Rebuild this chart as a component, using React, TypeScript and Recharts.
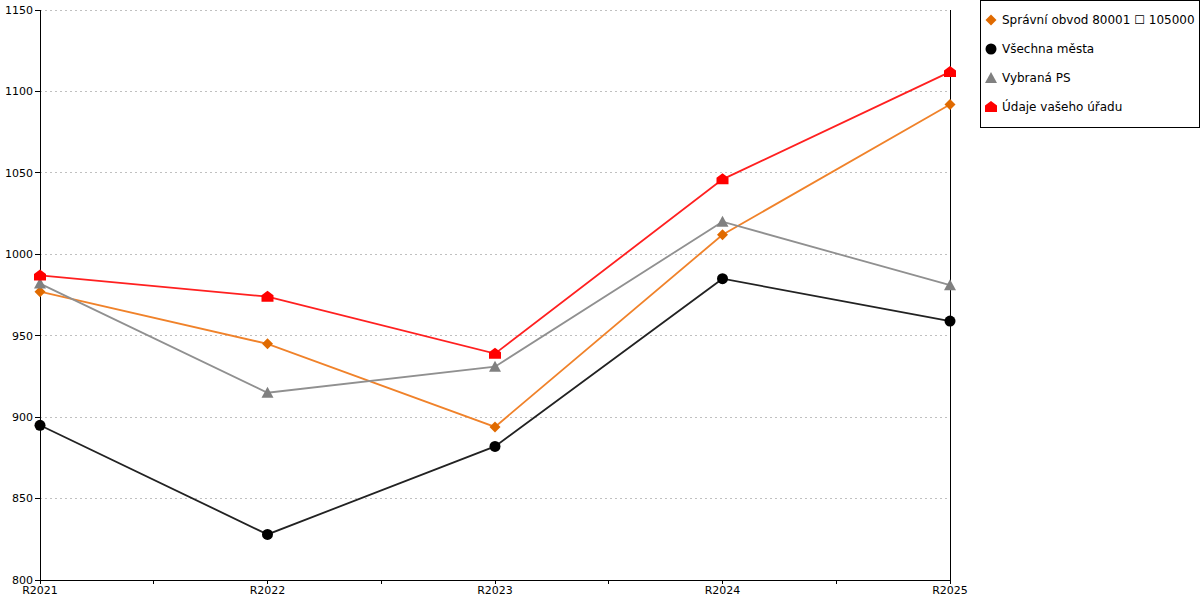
import React from "react";
import { LineChart, Line, XAxis, YAxis, CartesianGrid, ReferenceLine } from "recharts";

const categories = ["R2021", "R2022", "R2023", "R2024", "R2025"];
const obvod = [977, 945, 894, 1012, 1092];
const mesta = [895, 828, 882, 985, 959];
const vybranaPs = [982, 915, 931, 1020, 981];
const urad = [987, 974, 939, 1046, 1112];
const yTicks = [800, 850, 900, 950, 1000, 1050, 1100, 1150];
const xTicks = [0, 0.5, 1, 1.5, 2, 2.5, 3, 3.5, 4];

const data = categories.map((c, i) => ({
  x: i,
  name: c,
  obvod: obvod[i],
  mesta: mesta[i],
  ps: vybranaPs[i],
  urad: urad[i],
}));

const FONT = "'DejaVu Sans', Verdana, sans-serif";

type Shape = "diamond" | "circle" | "triangle" | "house";

function marker(shape: Shape, cx: number, cy: number, fill: string) {
  if (shape === "diamond")
    return <polygon points={`${cx},${cy - 5.5} ${cx + 5.5},${cy} ${cx},${cy + 5.5} ${cx - 5.5},${cy}`} fill={fill} />;
  if (shape === "circle") return <circle cx={cx} cy={cy} r={5.5} fill={fill} />;
  if (shape === "triangle")
    return <polygon points={`${cx},${cy - 6} ${cx + 6},${cy + 5} ${cx - 6},${cy + 5}`} fill={fill} />;
  return (
    <polygon
      points={`${cx},${cy - 6} ${cx + 6},${cy - 1.5} ${cx + 6},${cy + 5} ${cx - 6},${cy + 5} ${cx - 6},${cy - 1.5}`}
      fill={fill}
    />
  );
}

const dotFn = (shape: Shape, fill: string) => (props: any) => {
  const { cx, cy, index } = props;
  if (cx == null || cy == null) return <g key={index} />;
  return <g key={index}>{marker(shape, cx, cy, fill)}</g>;
};

const series = [
  { key: "obvod", label: "Správní obvod 80001 \u2610 105000", line: "#F0822A", fill: "#E06A00", shape: "diamond" as Shape },
  { key: "mesta", label: "Všechna města", line: "#222222", fill: "#000000", shape: "circle" as Shape },
  { key: "ps", label: "Vybraná PS", line: "#909090", fill: "#808080", shape: "triangle" as Shape },
  { key: "urad", label: "Údaje vašeho úřadu", line: "#FF2020", fill: "#FF0000", shape: "house" as Shape },
];

const crisp = { stroke: "#000", shapeRendering: "crispEdges" } as any;

export default function App() {
  return (
    <div style={{ position: "absolute", left: 0, top: 0, width: 1200, height: 600, background: "#fff", fontFamily: FONT }}>
      <LineChart width={1200} height={600} data={data} margin={{ top: 10, right: 250, bottom: 0, left: 0 }}>
        <CartesianGrid horizontal vertical={false} stroke="#c0c0c0" strokeDasharray="2 3" shapeRendering="crispEdges" />
        <XAxis
          dataKey="x"
          type="number"
          domain={[0, 4]}
          ticks={xTicks}
          interval={0}
          height={20}
          tickFormatter={(v: number) => (Number.isInteger(v) ? categories[v] : "")}
          tick={{ fontSize: 11, fill: "#000", fontFamily: FONT }}
          axisLine={crisp}
          tickLine={crisp}
          tickSize={4}
          tickMargin={2}
        />
        <YAxis
          domain={[800, 1150]}
          ticks={yTicks}
          interval={0}
          width={40}
          tick={{ fontSize: 11, fill: "#000", fontFamily: FONT }}
          axisLine={crisp}
          tickLine={crisp}
          tickSize={5}
          tickMargin={2}
        />
        <ReferenceLine x={4} stroke="#000" strokeWidth={1} shapeRendering="crispEdges" />
        {series.map((s) => (
          <Line
            key={s.key}
            dataKey={s.key}
            type="linear"
            stroke={s.line}
            strokeWidth={1.8}
            dot={dotFn(s.shape, s.fill)}
            activeDot={false}
            isAnimationActive={false}
          />
        ))}
      </LineChart>
      <div
        style={{
          position: "absolute",
          left: 980,
          top: 0,
          width: 218,
          height: 126,
          border: "1px solid #000",
          background: "#fff",
          fontSize: 12,
          color: "#000",
        }}
      >
        {series.map((s, i) => (
          <div key={s.key} style={{ position: "absolute", left: 3, top: 11 + i * 29, display: "flex", alignItems: "center", whiteSpace: "nowrap" }}>
            <svg width={14} height={16} style={{ marginRight: 4 }}>
              {marker(s.shape, 7, 8, s.fill)}
            </svg>
            <span>{s.label}</span>
          </div>
        ))}
      </div>
    </div>
  );
}
